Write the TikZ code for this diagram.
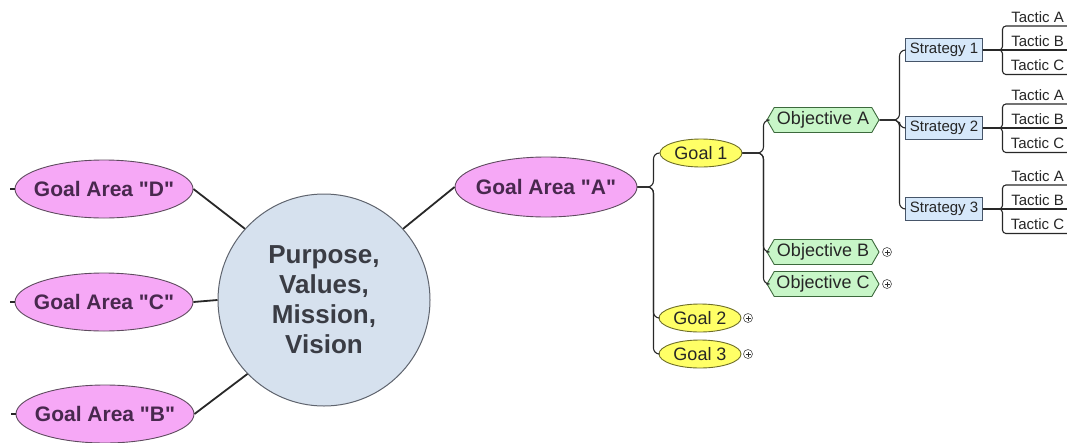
\documentclass[tikz,border=0pt]{standalone}
\usepackage{fontspec}
\setmainfont{Liberation Sans}
\usetikzlibrary{shapes.geometric,shapes.symbols,calc}
\definecolor{pinkfill}{RGB}{246,168,246}
\definecolor{pinkdraw}{RGB}{95,75,95}
\definecolor{areatext}{RGB}{72,40,78}
\definecolor{centerfill}{RGB}{214,225,238}
\definecolor{centerdraw}{RGB}{95,100,110}
\definecolor{centertext}{RGB}{58,60,68}
\definecolor{goalfill}{RGB}{255,255,102}
\definecolor{goaldraw}{RGB}{110,110,40}
\definecolor{objfill}{RGB}{200,246,200}
\definecolor{objdraw}{RGB}{60,105,60}
\definecolor{stratfill}{RGB}{214,232,250}
\definecolor{stratdraw}{RGB}{70,85,105}
\definecolor{linecol}{RGB}{40,40,40}
\tikzset{
  centre/.style={circle, draw=centerdraw, line width=1pt, fill=centerfill, minimum size=212pt, inner sep=0pt,
    align=center, text=centertext, font=\fontsize{26}{30}\selectfont\bfseries},
  area/.style={ellipse, draw=pinkdraw, line width=0.9pt, fill=pinkfill, minimum width=178pt, minimum height=58pt,
    inner sep=0pt},
  areatxt/.style={inner sep=0pt, text=areatext, font=\fontsize{21}{25}\selectfont\bfseries},
  goal/.style={ellipse, draw=goaldraw, line width=0.9pt, fill=goalfill, minimum width=82pt, minimum height=28pt,
    inner sep=0pt},
  goaltxt/.style={inner sep=0pt, font=\fontsize{18}{21}\selectfont, text=black!85},
  obj/.style={signal, signal to=east and west, signal pointer angle=120, draw=objdraw, line width=0.9pt, fill=objfill,
    minimum width=112pt, minimum height=25pt, inner sep=1pt, font=\fontsize{18}{21}\selectfont, text=black!85},
  strat/.style={rectangle, draw=stratdraw, line width=0.9pt, fill=stratfill, minimum width=77pt, minimum height=23pt,
    inner sep=0pt, font=\fontsize{15}{18}\selectfont, text=black!85},
  tactic/.style={anchor=south, minimum width=65pt, inner xsep=0pt, inner ysep=3.5pt, font=\fontsize{15}{18}\selectfont, text=black!85},
  plusc/.style={circle, draw=black!70, line width=0.6pt, fill=white, minimum size=9pt, inner sep=0pt,
    path picture={\draw[black!80, line width=0.6pt] ([xshift=-2.5pt]path picture bounding box.center) -- ([xshift=2.5pt]path picture bounding box.center)
      ([yshift=-2.5pt]path picture bounding box.center) -- ([yshift=2.5pt]path picture bounding box.center);}},
  mainline/.style={draw=linecol, line width=1.8pt},
  conn/.style={draw=linecol, line width=1.1pt, rounded corners=6pt},
}
\begin{document}
\begin{tikzpicture}[x=1pt, y=-1pt]
\useasboundingbox (0,0) rectangle (1067,442);
% centre and goal areas
\node[centre] (c) at (324,300) {Purpose,\\Values,\\Mission,\\Vision};
\node[area, label={[areatxt]center:Goal Area \textquotedbl D\textquotedbl}] (gd) at (104,189) {};
\node[area, label={[areatxt]center:Goal Area \textquotedbl C\textquotedbl}] (gc) at (104,302) {};
\node[area, label={[areatxt]center:Goal Area \textquotedbl B\textquotedbl}] (gb) at (105,414) {};
\node[area, minimum width=182pt, minimum height=60pt, label={[areatxt]center:Goal Area \textquotedbl A\textquotedbl}] (ga) at (546,187) {};
\draw[mainline] (gd.east) -- (c.138);
\draw[mainline] (gc.east) -- (c.west);
\draw[mainline] (gb.east) -- (c.224);
\draw[mainline] (c.42) -- (ga.west);
\draw[conn] (gd.west) -- ++(-5,0);
\draw[conn] (gc.west) -- ++(-5,0);
\draw[conn] (gb.west) -- ++(-5,0);
% goals
\node[goal, label={[goaltxt]center:Goal 1}] (g1) at (701,153) {};
\node[goal, label={[goaltxt]center:Goal 2}] (g2) at (700,318) {};
\node[goal, label={[goaltxt]center:Goal 3}] (g3) at (700,354) {};
\node[plusc] (p2) at (748,318) {};
\node[plusc] (p3) at (748,354) {};
\draw[conn] (ga.east) -- ++(16,0) |- (g1.west);
\draw[conn] (ga.east) -- ++(16,0) |- (g2.west);
\draw[conn] (ga.east) -- ++(16,0) |- (g3.west);
% objectives
\node[obj] (oa) at (823,120) {Objective A};
\node[obj] (ob) at (823,252) {Objective B};
\node[obj] (oc) at (823,284) {Objective C};
\node[plusc] (pb) at (887,252) {};
\node[plusc] (pc) at (887,284) {};
\draw[conn] (g1.east) -- ++(21,0) |- (oa.west);
\draw[conn] (g1.east) -- ++(21,0) |- (ob.west);
\draw[conn] (g1.east) -- ++(21,0) |- (oc.west);
% strategies
\node[strat] (s1) at (944,50) {Strategy 1};
\node[strat] (s2) at (944,128) {Strategy 2};
\node[strat] (s3) at (944,209) {Strategy 3};
\draw[conn] (oa.east) -- ++(20,0) |- (s1.west);
\draw[conn] (oa.east) -- ++(20,0) |- (s2.west);
\draw[conn] (oa.east) -- ++(20,0) |- (s3.west);
% tactics
\foreach \s/\y in {1/50, 2/128, 3/209} {
  \node[tactic] (t\s a) at (1037.5,\y-24) {Tactic A};
  \node[tactic] (t\s b) at (1037.5,\y) {Tactic B};
  \node[tactic] (t\s c) at (1037.5,\y+24.5) {Tactic C};
  \draw[conn, rounded corners=3.5pt] (s\s.east) -- ++(19.5,0) |- (t\s a.south east);
  \draw[conn] (s\s.east) -- (t\s b.south east);
  \draw[conn, rounded corners=3.5pt] (s\s.east) -- ++(19.5,0) |- (t\s c.south east);
}
\end{tikzpicture}
\end{document}
